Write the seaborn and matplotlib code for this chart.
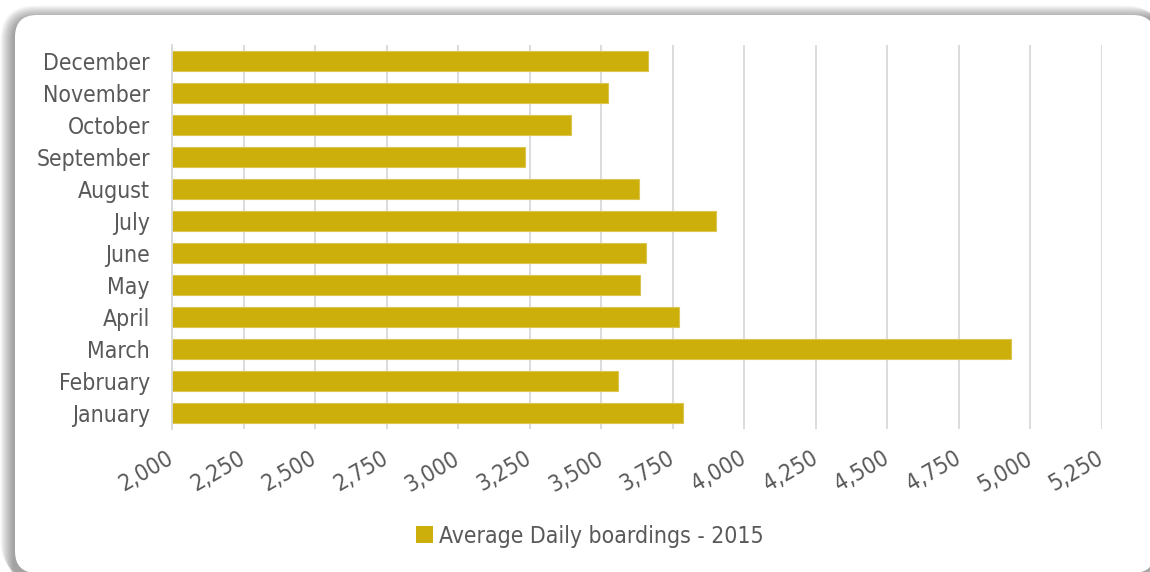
import numpy as np
import pandas as pd
import seaborn as sns
import matplotlib
matplotlib.use("Agg")
from matplotlib import pyplot as plt
from matplotlib import font_manager
from matplotlib.patches import FancyBboxPatch, Patch
from matplotlib.ticker import FuncFormatter

# values
months = ["January", "February", "March", "April", "May", "June",
          "July", "August", "September", "October", "November", "December"]
boardings = [3787, 3557, 4931, 3772, 3634, 3658, 3901, 3633, 3234, 3395, 3525, 3662]
series_name = "Average Daily boardings - 2015"
x_ticks = list(range(2000, 5251, 250))

bar_color = "#CCAF0A"
text_color = "#595959"
grid_color = "#D9D9D9"

sns.set_theme(style="white")
plt.rcParams["font.family"] = ["DejaVu Sans"]

# condensed DejaVu looks closer to the original font if it is there
condensed = any(f.name == "DejaVu Sans" and f.stretch == "condensed" and f.style == "normal"
                and "Bold" not in f.fname and "Oblique" not in f.fname
                for f in font_manager.fontManager.ttflist)
if condensed:
    plt.rcParams["font.stretch"] = "condensed"
    fs = 16.5
else:
    fs = 15

df = pd.DataFrame({"month": months, "boardings": boardings})

fig = plt.figure(figsize=(11.5, 5.72), dpi=100, facecolor="white")

# card with a soft shadow (mostly left, lighter on top) behind everything
bg = fig.add_axes([0, 0, 1, 1], zorder=-1)
bg.set_xlim(0, 1150)
bg.set_ylim(572, 0)
bg.axis("off")
for i in range(14):
    sh = FancyBboxPatch((13 - 0.95 * i, 18 - 0.95 * i), 1160, 570,
                        boxstyle="round,pad=0,rounding_size=%d" % (22 + i),
                        facecolor="#333333", edgecolor="none", alpha=0.04)
    bg.add_patch(sh)
card = FancyBboxPatch((15, 15), 1140, 558, boxstyle="round,pad=0,rounding_size=22",
                      facecolor="white", edgecolor="none")
bg.add_patch(card)

ax = fig.add_axes([172 / 1150, 1 - 429 / 572, 930 / 1150, 384 / 572])
ax.set_facecolor("none")

sns.barplot(data=df, x="boardings", y="month", order=months[::-1], orient="h",
            color=bar_color, width=0.65, edgecolor="#DCC450", linewidth=0.8,
            saturation=1, errorbar=None, ax=ax)

ax.set_xlim(2000, 5250)
ax.set_ylim(11.5, -0.5)
ax.set_xticks(x_ticks)
ax.xaxis.set_major_formatter(FuncFormatter(lambda v, p: "{:,.0f}".format(v)))
ax.set_xlabel("")
ax.set_ylabel("")

ax.set_axisbelow(True)
ax.grid(axis="x", color=grid_color, linewidth=1.3)
ax.grid(axis="y", visible=False)
for side in ["top", "right", "bottom"]:
    ax.spines[side].set_visible(False)
ax.spines["left"].set_color(grid_color)
ax.spines["left"].set_linewidth(1.3)

ax.tick_params(axis="x", length=0, pad=20, labelsize=fs, colors=text_color)
ax.tick_params(axis="y", length=0, pad=16, labelsize=fs, colors=text_color)
for lab in ax.get_xticklabels():
    lab.set_rotation(30)
    lab.set_ha("right")
    lab.set_va("center")
    lab.set_rotation_mode("anchor")

handles = [Patch(facecolor=bar_color, edgecolor="none", label=series_name)]
fig.legend(handles=handles, loc="center", bbox_to_anchor=(590 / 1150, 1 - 536 / 572),
           frameon=False, fontsize=fs, labelcolor=text_color,
           handlelength=0.75, handleheight=0.75, handletextpad=0.25)

fig.savefig("out.png", dpi=100, facecolor="white")
